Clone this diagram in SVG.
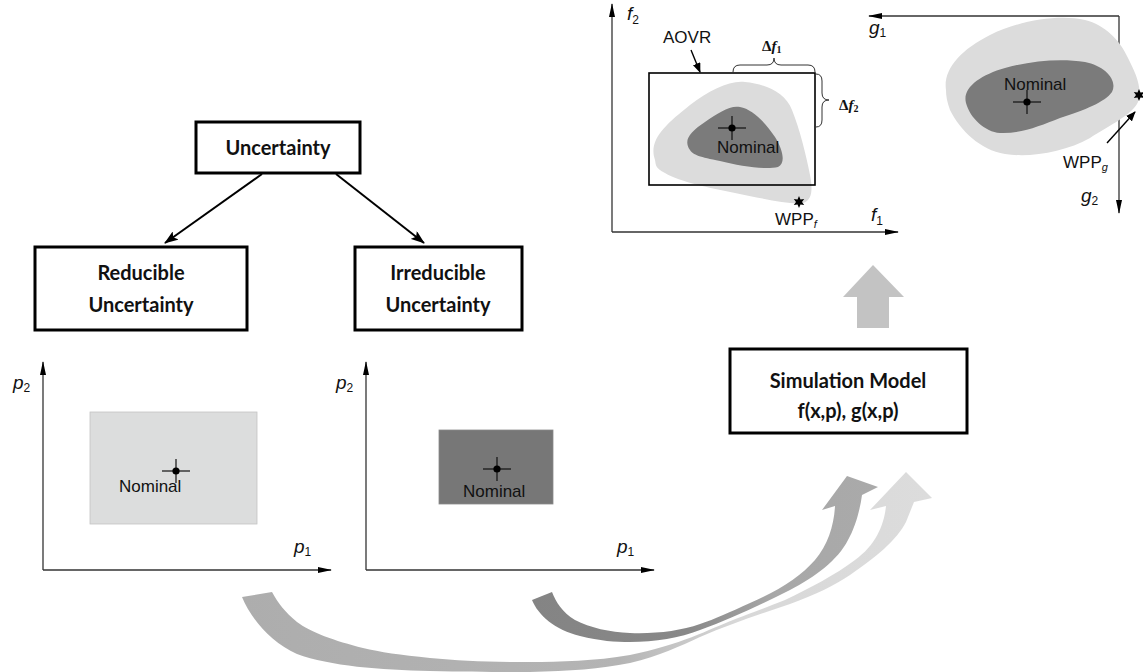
<svg xmlns="http://www.w3.org/2000/svg" xmlns:xlink="http://www.w3.org/1999/xlink" width="1143" height="672" viewBox="0 0 1143 672">
  <style>
    .box { fill: #ffffff; stroke: #000000; stroke-width: 3; }
    .boxtxt { font-family: Lato, "Open Sans", sans-serif; font-weight: bold; font-size: 20px; fill: #111111; text-anchor: middle; }
    .axis { stroke: #333333; stroke-width: 1.3; fill: none; }
    .nom { font-family: "Liberation Sans", Arial, sans-serif; font-size: 17px; fill: #111111; }
    .var { font-family: "Liberation Sans", Arial, sans-serif; font-style: italic; font-size: 19px; fill: #111111; }
    .sub { font-size: 12px; font-style: normal; }
    .delta { font-family: "Liberation Serif", "Times New Roman", serif; font-weight: bold; font-size: 15px; fill: #111111; }
    .light { fill: #dcdcdc; }
    .dark { fill: #7b7b7b; }
    .tree { stroke: #000000; stroke-width: 2; fill: none; }
  </style>
  <defs>
    <marker id="axhead" viewBox="0 0 14 8" refX="13" refY="4" markerWidth="14" markerHeight="8" markerUnits="userSpaceOnUse" orient="auto">
      <path d="M0,1 L14,4 L0,7 Z" fill="#000000"/>
    </marker>
    <marker id="treehead" viewBox="0 0 14 10" refX="13" refY="5" markerWidth="14" markerHeight="10" markerUnits="userSpaceOnUse" orient="auto">
      <path d="M0,0 L14,5 L0,10 L3,5 Z" fill="#000000"/>
    </marker>
    <marker id="smallhead" viewBox="0 0 10 8" refX="9" refY="4" markerWidth="10" markerHeight="8" markerUnits="userSpaceOnUse" orient="auto">
      <path d="M0,0 L10,4 L0,8 Z" fill="#000000"/>
    </marker>
    <g id="cross">
      <line x1="-14" y1="0" x2="14" y2="0" stroke="#111" stroke-width="1.2"/>
      <line x1="0" y1="-12" x2="0" y2="12" stroke="#111" stroke-width="1.2"/>
      <circle cx="0" cy="0" r="3.6" fill="#000"/>
    </g>
    <path id="star" d="M0,-6 L1.5,-2.6 L5.2,-3 L3,0 L5.2,3 L1.5,2.6 L0,6 L-1.5,2.6 L-5.2,3 L-3,0 L-5.2,-3 L-1.5,-2.6 Z" fill="#000"/>
    <linearGradient id="gradA" gradientUnits="userSpaceOnUse" x1="240" y1="0" x2="930" y2="0">
      <stop offset="0" stop-color="#adadad"/>
      <stop offset="0.55" stop-color="#b4b4b4"/>
      <stop offset="0.72" stop-color="#d8d8d8"/>
      <stop offset="1" stop-color="#dcdcdc"/>
    </linearGradient>
    <linearGradient id="gradB" gradientUnits="userSpaceOnUse" x1="530" y1="0" x2="880" y2="0">
      <stop offset="0" stop-color="#848484"/>
      <stop offset="0.45" stop-color="#888888"/>
      <stop offset="0.7" stop-color="#a8a8a8"/>
      <stop offset="1" stop-color="#aaaaaa"/>
    </linearGradient>
  </defs>

  <rect x="0" y="0" width="1143" height="672" fill="#ffffff"/>

  <!-- hierarchy of uncertainty -->
  <g id="node-uncertainty">
    <rect class="box" x="196" y="122" width="164" height="51"/>
    <text class="boxtxt" x="278" y="155">Uncertainty</text>
  </g>
  <g id="node-reducible">
    <rect class="box" x="35" y="247" width="212" height="83"/>
    <text class="boxtxt" x="141" y="280">Reducible</text>
    <text class="boxtxt" x="141" y="312">Uncertainty</text>
  </g>
  <g id="node-irreducible">
    <rect class="box" x="355" y="247" width="167" height="83"/>
    <text class="boxtxt" x="438" y="280">Irreducible</text>
    <text class="boxtxt" x="438" y="312">Uncertainty</text>
  </g>
  <g id="node-simulation">
    <rect class="box" x="730" y="349" width="237" height="84"/>
    <text class="boxtxt" x="848" y="388" font-size="21">Simulation Model</text>
    <text class="boxtxt" x="848" y="418" font-size="21">f(x,p), g(x,p)</text>
  </g>

  <g id="connectors">
    <line class="tree" x1="262" y1="174" x2="165" y2="243" marker-end="url(#treehead)"/>
    <line class="tree" x1="336" y1="174" x2="424" y2="243" marker-end="url(#treehead)"/>
    <!-- block arrow from the model up to the response spaces -->
    <path d="M873,265 L904,297 L889,297 L889,328 L857,328 L857,297 L843,297 Z" fill="#c3c3c3"/>
    <!-- swept arrows from the parameter spaces into the model -->
    <path fill="url(#gradA)" d="M242,597 C250,617 270,642 297,654 C330,666 380,670 430,671 C470,672 500,672 530,672 C570,671 600,669 630,663 C660,656 680,646 700,637 C730,624 760,614 790,604 C815,595 835,585 850,575 C875,558 897,540 906,522 L914,502 L932,498 L906,472 L870,510 L886,506 C884,525 876,545 855,560 C835,575 810,588 785,600 C760,610 745,615 733,620 C710,629 680,645 630,655 C595,661 560,662 530,662 C490,662 460,661 430,658 C400,655 380,652 363,648 C335,641 310,632 297,622 C285,612 278,603 272,592 Z"/>
    <path fill="url(#gradB)" d="M532,600 C538,615 555,630 580,636 C600,641 615,642 630,642 C655,642 680,638 700,630 C730,619 760,605 790,590 C815,577 838,560 848,540 C855,528 860,510 862,495 L878,487 L847,476 L822,510 L835,506 C834,525 828,545 815,560 C800,577 780,590 750,603 C730,612 715,619 700,624 C680,631 655,634 630,633 C610,632 590,628 575,620 C562,612 556,602 552,592 Z"/>
  </g>

  <!-- reducible parameter space -->
  <g id="plot-reducible">
    <line class="axis" x1="43" y1="570" x2="43" y2="362" marker-end="url(#axhead)"/>
    <line class="axis" x1="43" y1="570" x2="331" y2="570" marker-end="url(#axhead)"/>
    <rect x="90" y="412" width="167" height="112" fill="#dcdddd" stroke="#c4c4c4" stroke-width="0.8"/>
    <use href="#cross" x="176" y="471"/>
    <text class="nom" x="119" y="492">Nominal</text>
    <text class="var" x="13" y="389">p<tspan class="sub" dy="3">2</tspan></text>
    <text class="var" x="294" y="553">p<tspan class="sub" dy="3">1</tspan></text>
  </g>

  <!-- irreducible parameter space -->
  <g id="plot-irreducible">
    <line class="axis" x1="366" y1="570" x2="366" y2="362" marker-end="url(#axhead)"/>
    <line class="axis" x1="366" y1="570" x2="654" y2="570" marker-end="url(#axhead)"/>
    <rect x="439" y="430" width="114" height="74" fill="#777777" stroke="#8a8a8a" stroke-width="0.8"/>
    <use href="#cross" x="497" y="469"/>
    <text class="nom" x="463" y="497">Nominal</text>
    <text class="var" x="336" y="389">p<tspan class="sub" dy="3">2</tspan></text>
    <text class="var" x="617" y="553">p<tspan class="sub" dy="3">1</tspan></text>
  </g>

  <!-- objective space f -->
  <g id="plot-objectives">
    <line class="axis" x1="612" y1="232" x2="612" y2="4" marker-end="url(#axhead)"/>
    <line class="axis" x1="612" y1="232" x2="898" y2="232" marker-end="url(#axhead)"/>
    <path class="light" d="M655,160 C648,140 665,125 690,105 C710,90 730,80 745,82 C765,84 785,92 792,110 C800,130 806,155 810,175 C813,190 812,200 803,203 C790,205 760,198 735,193 C710,188 680,182 665,173 C655,168 656,165 655,160 Z"/>
    <path class="dark" d="M690,150 C683,140 690,132 705,122 C718,113 730,105 740,107 C752,109 765,122 775,137 C783,150 786,163 778,167 C765,170 740,166 720,161 C700,157 693,155 690,150 Z"/>
    <rect x="649" y="73" width="166" height="112" fill="none" stroke="#000" stroke-width="1.6"/>
    <use href="#cross" x="732" y="128"/>
    <text class="nom" x="717" y="153">Nominal</text>
    <use href="#star" x="799" y="202"/>
    <text class="nom" x="775" y="225" font-size="16">WPP<tspan font-size="11" font-style="italic" dy="3">f</tspan></text>
    <text class="nom" x="663" y="43">AOVR</text>
    <line x1="691" y1="50" x2="700" y2="72" stroke="#000" stroke-width="1.4" marker-end="url(#smallhead)"/>
    <path d="M733,72 Q733,65 740,65 L767,65 Q774,65 774,58 Q774,65 781,65 L808,65 Q815,65 815,72" fill="none" stroke="#333" stroke-width="1"/>
    <path d="M816,74 Q822,74 822,81 L822,93 Q822,100 829,100 Q822,100 822,107 L822,120 Q822,127 816,127" fill="none" stroke="#333" stroke-width="1"/>
    <text class="delta" x="762" y="51">Δ<tspan font-style="italic">f</tspan><tspan font-size="10" dy="2">1</tspan></text>
    <text class="delta" x="839" y="110">Δ<tspan font-style="italic">f</tspan><tspan font-size="10" dy="2">2</tspan></text>
    <text class="var" x="627" y="20">f<tspan class="sub" dy="4">2</tspan></text>
    <text class="var" x="871" y="221">f<tspan class="sub" dy="4">1</tspan></text>
  </g>

  <!-- constraint space g -->
  <g id="plot-constraints">
    <line class="axis" x1="1119" y1="16" x2="869" y2="16" marker-end="url(#axhead)"/>
    <line class="axis" x1="1119" y1="16" x2="1119" y2="213" marker-end="url(#axhead)"/>
    <path class="light" d="M946,90 C943,70 960,50 990,35 C1020,20 1060,14 1085,20 C1105,25 1120,40 1128,58 C1135,72 1143,88 1138,102 C1132,115 1110,125 1090,138 C1065,152 1030,158 1005,154 C980,150 960,130 950,110 C947,102 946,96 946,90 Z"/>
    <path class="dark" d="M966,103 C962,88 980,75 1005,68 C1030,61 1060,58 1085,62 C1105,66 1118,80 1112,92 C1105,102 1085,110 1060,118 C1040,126 1020,134 1000,133 C985,132 970,118 966,103 Z"/>
    <use href="#cross" x="1027" y="102"/>
    <text class="nom" x="1004" y="90">Nominal</text>
    <use href="#star" x="1139" y="95"/>
    <line x1="1107" y1="143" x2="1135" y2="112" stroke="#000" stroke-width="1.4" marker-end="url(#smallhead)"/>
    <text class="nom" x="1063" y="168" font-size="16">WPP<tspan font-size="11" font-style="italic" dy="3">g</tspan></text>
    <text class="var" x="869" y="34">g<tspan class="sub" dy="3">1</tspan></text>
    <text class="var" x="1081" y="202">g<tspan class="sub" dy="3">2</tspan></text>
  </g>
</svg>
